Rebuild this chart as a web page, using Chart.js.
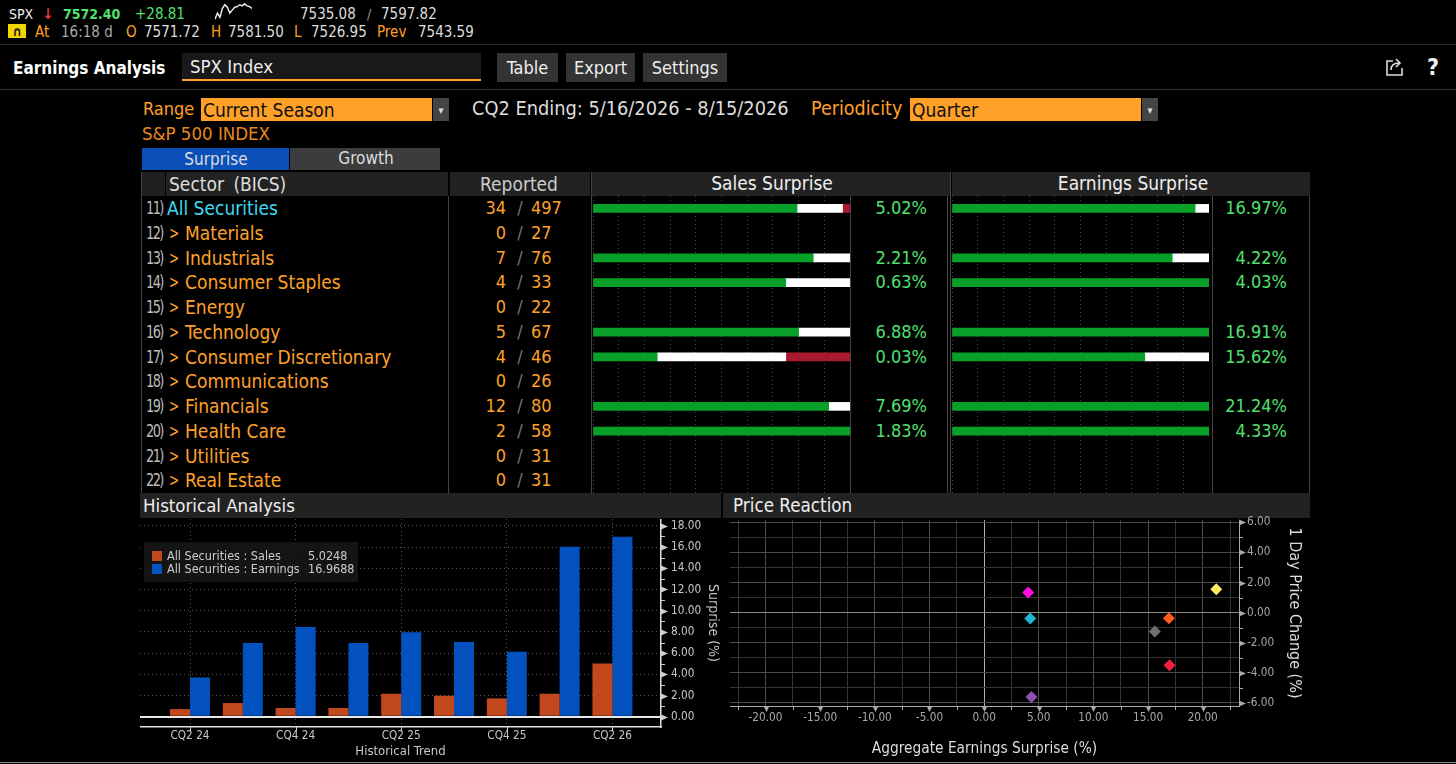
<!DOCTYPE html>
<html>
<head>
<meta charset="utf-8">
<title>Earnings Analysis</title>
<script src="https://cdn.jsdelivr.net/npm/chart.js@4"></script>
<style>
  html, body { margin: 0; padding: 0; background: #000; overflow: hidden; }
  #page { position: relative; width: 1456px; height: 764px; background: #000; overflow: hidden;
          font-family: 'DejaVu Sans Condensed', 'DejaVu Sans', sans-serif; }
  #page div, #page canvas, #page svg { position: absolute; }
  .t { white-space: pre; line-height: 1; }
</style>
</head>
<body>
<div id="page"></div>
<script>
// Sector table
const sectors = ['All Securities', 'Materials', 'Industrials', 'Consumer Staples', 'Energy', 'Technology',
    'Consumer Discretionary', 'Communications', 'Financials', 'Health Care', 'Utilities', 'Real Estate'];
const rowNumbers = ['11)', '12)', '13)', '14)', '15)', '16)', '17)', '18)', '19)', '20)', '21)', '22)'];
const reportedCount = [34, 0, 7, 4, 0, 5, 4, 0, 12, 2, 0, 0];
const totalCount = [497, 27, 76, 33, 22, 67, 46, 26, 80, 58, 31, 31];

// Sales / earnings surprise, share of companies beating / in line / missing
const salesBeat = [79.4, null, 85.7, 75, null, 80, 25, null, 91.7, 100, null, null];
const salesInLine = [17.7, null, 14.3, 25, null, 20, 50, null, 8.3, 0, null, null];
const salesMiss = [2.9, null, 0, 0, null, 0, 25, null, 0, 0, null, null];
const salesSurprise = ['5.02%', '', '2.21%', '0.63%', '', '6.88%', '0.03%', '', '7.69%', '1.83%', '', ''];
const earningsBeat = [94.6, null, 85.7, 100, null, 100, 75, null, 100, 100, null, null];
const earningsInLine = [5.4, null, 14.3, 0, null, 0, 25, null, 0, 0, null, null];
const earningsSurprise = ['16.97%', '', '4.22%', '4.03%', '', '16.91%', '15.62%', '', '21.24%', '4.33%', '', ''];

// Historical analysis
const quarters = ['CQ2 24', 'CQ3 24', 'CQ4 24', 'CQ1 25', 'CQ2 25', 'CQ3 25', 'CQ4 25', 'CQ1 26', 'CQ2 26'];
const histSales = [0.72, 1.29, 0.82, 0.82, 2.17, 1.98, 1.73, 2.17, 5.02];
const histEarnings = [3.71, 6.95, 8.46, 6.95, 7.96, 7.04, 6.13, 16.04, 16.97];
const histXTicks = [0, 2, 4, 6, 8];
const histYTicks = [0, 1, 2, 3, 4, 5, 6, 7, 8, 9, 10, 11, 12, 13, 14, 15, 16, 17, 18];

// Price reaction
const reactionSurprise = [4.03, 4.22, 4.33, 16.91, 16.97, 15.62, 21.24];
const reactionPrice = [1.34, -0.39, -5.6, -0.37, -3.49, -1.25, 1.56];
const reactionColors = ['#ff10e0', '#20b8d0', '#8f50b0', '#ff5a20', '#f5203f', '#707070', '#ffe866'];
const reactionXTicks = [-22.5, -20, -17.5, -15, -12.5, -10, -7.5, -5, -2.5, 0, 2.5, 5, 7.5, 10, 12.5, 15, 17.5, 20, 22.5];
const reactionYTicks = [-6, -5, -4, -3, -2, -1, 0, 1, 2, 3, 4, 5, 6];

// Intraday sparkline in the ticker header
const sparkLine = [7527, 7548.5, 7533, 7565, 7578, 7569, 7548.5, 7559, 7569, 7571, 7578, 7574, 7581, 7574, 7571, 7565];

const ORANGE = '#ffa028';
const GREEN = '#52e070';
const FONT = "'DejaVu Sans Condensed', 'DejaVu Sans', sans-serif";
const page = document.getElementById('page');

function box(x, y, w, h, bg, extra) {
    const d = document.createElement('div');
    d.style.cssText = `left:${x}px;top:${y}px;width:${w}px;height:${h}px;background:${bg};` + (extra || '');
    page.appendChild(d);
    return d;
}

// anchor: l / r / c, cy is the vertical middle of the text
function text(str, x, cy, size, color, anchor, extra) {
    const d = document.createElement('div');
    d.className = 't';
    d.textContent = str;
    const tx = anchor === 'r' ? '-100%' : anchor === 'c' ? '-50%' : '0';
    d.style.cssText = `left:${x}px;top:${cy}px;font-size:${size}px;color:${color};transform:translate(${tx},-50%);` + (extra || '');
    page.appendChild(d);
    return d;
}

function canvas(x, y, w, h) {
    const c = document.createElement('canvas');
    c.width = w;
    c.height = h;
    c.style.cssText = `left:${x}px;top:${y}px;width:${w}px;height:${h}px;`;
    page.appendChild(c);
    return c;
}

// Ticker rows
text('SPX', 9, 14, 14, '#eee');
text('\u2193', 48, 14, 15, '#e5303a', 'c', 'font-weight:bold;');
text('7572.40', 63, 14, 14, GREEN, 'l', 'font-weight:bold;');
text('+28.81', 135, 14, 15, GREEN);
text('7535.08', 300, 14, 15, '#ddd');
text('/', 369, 14, 14, '#999', 'c');
text('7597.82', 381, 14, 15, '#ddd');
const rowTwo = [['At', 35, ORANGE], ['16:18 d', 61, '#aaa'], ['O', 126, ORANGE], ['7571.72', 144, '#ddd'],
    ['H', 211, ORANGE], ['7581.50', 228, '#ddd'], ['L', 294, ORANGE], ['7526.95', 311, '#ddd'],
    ['Prev', 377, ORANGE], ['7543.59', 418, '#ddd']];
rowTwo.forEach(r => text(r[0], r[1], 32, 15, r[2]));
box(8, 24, 18, 14, '#f2d400');
text('\u2229', 17, 31, 13, '#222', 'c', 'font-weight:bold;');
box(0, 44, 1456, 1, '#2a2a2a');
box(0, 89, 1456, 1, '#333');

// Title row
text('Earnings Analysis', 13, 68, 17, '#fff', 'l', 'font-weight:bold;');
box(182, 53, 299, 27, '#191919');
box(182, 79, 299, 2, ORANGE);
text('SPX Index', 190, 67, 18.5, '#eee');
[['Table', 497, 61], ['Export', 566, 69], ['Settings', 643, 84]].forEach(b => {
    box(b[1], 53, b[2], 29, '#333');
    text(b[0], b[1] + b[2] / 2, 68, 18, '#eee', 'c');
});
const share = document.createElementNS('http://www.w3.org/2000/svg', 'svg');
share.setAttribute('width', '20');
share.setAttribute('height', '20');
share.style.cssText = 'left:1385px;top:57px;';
share.innerHTML = '<path d="M8 4H2V18H17V11M6 13C6 8 9 6 14 6M11 2L15 6L11 10" fill="none" stroke="#ddd" stroke-width="1.6"/>';
page.appendChild(share);
text('?', 1433, 67, 23, '#eee', 'c', 'font-weight:bold;');

// Range row
text('Range', 143, 109, 18, ORANGE);
box(201, 98, 231, 23, ORANGE);
text('Current Season', 203, 110, 19, '#111');
box(433, 98, 16, 23, '#444');
text('\u25be', 441, 110, 11, '#ddd', 'c');
text('CQ2 Ending: 5/16/2026 - 8/15/2026', 472, 109, 19.8, '#ddd');
text('Periodicity', 811, 109, 19.5, ORANGE);
box(910, 98, 231, 23, ORANGE);
text('Quarter', 912, 110, 19, '#111');
box(1142, 98, 16, 23, '#444');
text('\u25be', 1150, 110, 11, '#ddd', 'c');
text('S&P 500 INDEX', 142, 134, 18.5, '#e8891c');

// Tabs
box(142, 148, 147, 22, '#0a50b8');
text('Surprise', 216, 159, 17, '#ddd', 'c');
box(290, 148, 150, 22, '#3c3c3c');
text('Growth', 366, 158, 17, '#ddd', 'c');

// Table headers and frame
box(141, 172, 24, 24, '#1f1f1f');
box(166, 172, 282, 24, '#222');
text('Sector (BICS)', 169, 184, 19, '#ddd', 'l', 'word-spacing:4px;');
box(450, 172, 140, 24, '#222');
text('Reported', 519, 184, 19, '#ccc', 'c');
box(592, 172, 358, 24, '#222');
text('Sales Surprise', 772, 183, 19, '#eee', 'c');
box(952, 172, 358, 24, '#222');
text('Earnings Surprise', 1133, 183, 19, '#eee', 'c');
box(141, 172, 1, 321, '#444');
box(448, 196, 1, 297, '#444');
box(591, 172, 1, 321, '#444');
box(850, 196, 1, 297, '#444');
box(947, 196, 1, 297, '#444');
box(950, 172, 1, 321, '#444');
box(1212, 196, 1, 297, '#444');
box(1309, 196, 1, 297, '#444');

// Table rows
const ROW_Y = 208, ROW_STEP = 24.75;
sectors.forEach((name, i) => {
    const y = ROW_Y + i * ROW_STEP;
    text(rowNumbers[i], 146, y, 18, '#bbb', 'l', 'letter-spacing:-2px;transform:translateY(-50%) scaleX(0.8);transform-origin:left center;');
    if (i === 0) {
        text(name, 167, y, 19, '#3fd8f0');
    } else {
        text('>', 174, y, 18, ORANGE, 'c', 'transform:translate(-50%,-50%) scaleX(0.75);');
        text(name, 185, y, 19, ORANGE);
    }
    text(String(reportedCount[i]), 506, y, 18, ORANGE, 'r');
    text('/', 520, y, 18, '#777', 'c');
    text(String(totalCount[i]), 531, y, 18, ORANGE);
    text(salesSurprise[i], 927, y, 18, GREEN, 'r');
    text(earningsSurprise[i], 1287, y, 18, GREEN, 'r');
});

function surpriseBars(x, datasets) {
    new Chart(canvas(x, 196, 257, 297), {
        type: 'bar',
        data: { labels: sectors, datasets },
        options: {
            indexAxis: 'y',
            responsive: false,
            animation: false,
            layout: { padding: 0 },
            plugins: { legend: { display: false }, tooltip: { enabled: false } },
            scales: {
                x: {
                    stacked: true, min: 0, max: 100,
                    ticks: { display: false, stepSize: 10 },
                    grid: { color: '#4a4a4a', drawTicks: false },
                    border: { display: false, dash: [1, 3] }
                },
                y: { stacked: true, display: false }
            }
        }
    });
}
const seg = (data, color) => ({ data, backgroundColor: color, barThickness: 8 });
surpriseBars(593, [seg(salesBeat, '#08a028'), seg(salesInLine, '#ffffff'), seg(salesMiss, '#a81a30')]);
surpriseBars(952, [seg(earningsBeat, '#08a028'), seg(earningsInLine, '#ffffff')]);

// Section headers
box(140, 493, 581, 25, '#222');
text('Historical Analysis', 143, 506, 18.5, '#eee');
box(723, 493, 587, 25, '#222');
text('Price Reaction', 733, 506, 18.7, '#eee');
box(0, 762, 1456, 1, '#888');

// Small triangle / tick marks next to the axes
const axisMarks = {
    id: 'axisMarks',
    afterDraw(chart, args, opts) {
        const { ctx, scales: { x, y } } = chart;
        ctx.save();
        ctx.fillStyle = ctx.strokeStyle = opts.color;
        ctx.lineWidth = 1;
        y.ticks.forEach(t => {
            const p = Math.round(y.getPixelForValue(t.value)) + 0.5;
            if (t.value % opts.yMajor === 0) {
                ctx.beginPath();
                ctx.moveTo(y.left, p - 3);
                ctx.lineTo(y.left + 7, p);
                ctx.lineTo(y.left, p + 3);
                ctx.fill();
            } else {
                ctx.beginPath();
                ctx.moveTo(y.left, p);
                ctx.lineTo(y.left + 4, p);
                ctx.stroke();
            }
        });
        x.ticks.forEach(t => {
            const p = Math.round(x.getPixelForValue(t.value)) + 0.5;
            if (opts.xTriangles && Math.abs(t.value % 5) < 1e-6) {
                ctx.beginPath();
                ctx.moveTo(p - 3, x.top);
                ctx.lineTo(p, x.top + 6);
                ctx.lineTo(p + 3, x.top);
                ctx.fill();
            } else {
                ctx.beginPath();
                ctx.moveTo(p, x.top);
                ctx.lineTo(p, x.top + 4);
                ctx.stroke();
            }
        });
        ctx.restore();
    }
};

// The tick padding must not push the plot away from the canvas edges
const noPad = s => { s.paddingTop = s.paddingBottom = s.paddingLeft = s.paddingRight = 0; };
const useTicks = values => s => { s.ticks = values.map(value => ({ value })); };

// Historical analysis bars
new Chart(canvas(140, 519, 581, 243), {
    type: 'bar',
    data: {
        datasets: [
            { label: 'All Securities : Sales', data: histSales.map((y, i) => ({ x: i, y })), backgroundColor: '#c2481e' },
            { label: 'All Securities : Earnings', data: histEarnings.map((y, i) => ({ x: i, y })), backgroundColor: '#0452c0' }
        ]
    },
    plugins: [axisMarks],
    options: {
        responsive: false,
        animation: false,
        layout: { padding: 0, autoPadding: false },
        datasets: { bar: { categoryPercentage: 0.757, barPercentage: 1 } },
        plugins: {
            legend: { display: false },
            tooltip: { enabled: false },
            axisMarks: { color: '#d0d0d0', yMajor: 2, xTriangles: false }
        },
        scales: {
            x: {
                type: 'linear',
                offset: false,
                bounds: 'data',
                min: -0.947,
                max: 8.92,
                afterBuildTicks: useTicks(histXTicks),
                afterFit: s => { noPad(s); s.height = 35; },
                ticks: {
                    autoSkip: false, maxRotation: 0, padding: 2, color: '#c8c8c8',
                    font: { family: FONT, size: 11.7 },
                    callback: v => quarters[v]
                },
                grid: { offset: false, color: '#555', drawTicks: false },
                border: { color: '#ddd', width: 1.5, dash: [1, 3] },
                title: {
                    display: true, text: 'Historical Trend', color: '#c8c8c8',
                    font: { family: FONT, size: 13 }, padding: { top: 3, bottom: 3 }
                }
            },
            y: {
                position: 'right',
                bounds: 'data',
                min: -0.97,
                max: 18.65,
                afterBuildTicks: useTicks(histYTicks),
                afterFit: s => { noPad(s); s.width = 60; },
                ticks: {
                    autoSkip: false, padding: 10, color: '#c8c8c8',
                    font: { family: FONT, size: 11.7 },
                    callback: v => (v % 2 === 0 ? v.toFixed(2) : '')
                },
                grid: {
                    drawTicks: false,
                    color: c => (c.tick && c.tick.value === 0 ? '#e8e8e8' : c.tick && c.tick.value % 2 === 0 ? '#555' : 'transparent'),
                    lineWidth: c => (c.tick && c.tick.value === 0 ? 2 : 1)
                },
                border: { color: '#ddd', width: 1.5, dash: c => (c.tick && c.tick.value === 0 ? [] : [1, 3]) },
                title: {
                    display: true, text: 'Surprise (%)', color: '#c8c8c8',
                    font: { family: FONT, size: 14 }, padding: { top: 0, bottom: 0 }
                }
            }
        }
    }
});

// Legend of the historical chart
box(144, 542, 214, 40, 'rgba(22,22,22,0.92)', 'z-index:2;');
const legendRows = [['All Securities : Sales', '5.0248', '#c2481e', 556], ['All Securities : Earnings', '16.9688', '#0452c0', 569]];
legendRows.forEach(r => {
    box(152, r[3] - 5, 10, 10, r[2], 'z-index:3;');
    text(r[0], 167, r[3], 12.5, '#ccc', 'l', 'z-index:3;');
    text(r[1], 308, r[3], 12.5, '#ccc', 'l', 'z-index:3;');
});

// Price reaction scatter, canvas starts above the plot so the top label is not clipped
new Chart(canvas(730, 512, 580, 250), {
    type: 'scatter',
    data: {
        datasets: [{
            data: reactionSurprise.map((x, i) => ({ x, y: reactionPrice[i] })),
            pointStyle: 'rectRot',
            pointRadius: 6,
            pointBackgroundColor: reactionColors,
            pointBorderWidth: 0
        }]
    },
    plugins: [axisMarks],
    options: {
        responsive: false,
        animation: false,
        layout: { padding: { top: 8 }, autoPadding: false },
        plugins: {
            legend: { display: false },
            tooltip: { enabled: false },
            axisMarks: { color: '#aaa', yMajor: 2, xTriangles: true }
        },
        scales: {
            x: {
                bounds: 'data',
                min: -23.25,
                max: 23.32,
                afterBuildTicks: useTicks(reactionXTicks),
                afterFit: s => { noPad(s); s.height = 56; },
                ticks: {
                    autoSkip: false, maxRotation: 0, padding: 5, color: '#a8a8a8',
                    font: { family: FONT, size: 11.7 },
                    callback: v => (v % 5 === 0 ? (v + 0).toFixed(2) : '')
                },
                grid: {
                    drawTicks: false,
                    color: c => {
                        const v = c.tick ? c.tick.value : 1;
                        return v === 0 ? '#b0b0b0' : v % 5 === 0 ? '#4c4c4c' : '#333';
                    }
                },
                border: { color: '#aaa' },
                title: {
                    display: true, text: 'Aggregate Earnings Surprise (%)', color: '#ddd',
                    font: { family: FONT, size: 15.3 }, padding: { top: 10, bottom: 4 }
                }
            },
            y: {
                position: 'right',
                bounds: 'data',
                min: -6.2,
                max: 6.15,
                afterBuildTicks: useTicks(reactionYTicks),
                afterFit: s => { noPad(s); s.width = 71; },
                ticks: {
                    autoSkip: false, padding: 8, color: '#a8a8a8',
                    font: { family: FONT, size: 11.7 },
                    callback: v => (v % 2 === 0 ? v.toFixed(2) : '')
                },
                grid: {
                    drawTicks: false,
                    color: c => {
                        const v = c.tick ? c.tick.value : 1;
                        return v === 0 ? '#8a8a8a' : v % 2 === 0 ? '#4c4c4c' : '#333';
                    }
                },
                border: { color: '#aaa' },
                title: {
                    display: true, text: '1 Day Price Change (%)', color: '#ddd',
                    font: { family: FONT, size: 16 }, padding: { top: 6, bottom: 0 }
                }
            }
        }
    }
});

// Sparkline
new Chart(canvas(215, 3, 37, 17), {
    type: 'line',
    data: {
        labels: sparkLine.map((v, i) => i),
        datasets: [{ data: sparkLine, borderColor: '#f0f0f0', borderWidth: 1.4, pointRadius: 0, tension: 0 }]
    },
    options: {
        responsive: false,
        animation: false,
        layout: { padding: 0, autoPadding: false },
        plugins: { legend: { display: false }, tooltip: { enabled: false } },
        scales: { x: { display: false }, y: { display: false, min: 7524, max: 7584 } }
    }
});
</script>
</body>
</html>
